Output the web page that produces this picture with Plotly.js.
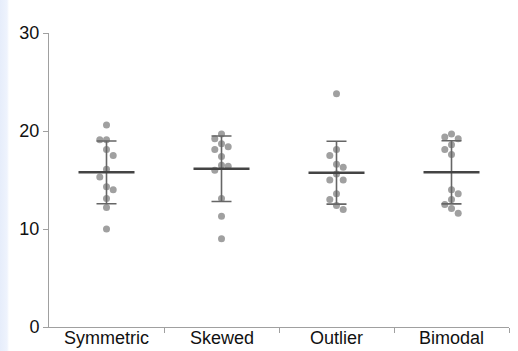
<!DOCTYPE html>
<html>
<head>
<meta charset="utf-8">
<script src="https://cdn.plot.ly/plotly-3.0.1.min.js"></script>
<style>
  html, body { margin: 0; padding: 0; }
  body {
    width: 518px; height: 351px; overflow: hidden;
    background: linear-gradient(to right, #e6edfb 0px, #eef3fd 7px, #ffffff 9px);
  }
  #chart { width: 518px; height: 351px; }
</style>
</head>
<body>
<div id="chart"></div>
<script>
// ---- data ----
const categories = ["Symmetric", "Skewed", "Outlier", "Bimodal"];
const symmetric = [20.6, 19.1, 19.1, 18.1, 17.5, 16.1, 15.3, 14.3, 14.0, 13.1, 12.2, 10.0];
const skewed    = [19.7, 19.2, 18.7, 18.4, 18.1, 17.4, 16.5, 16.4, 16.0, 13.1, 11.3, 9.0];
const outlier   = [23.8, 18.1, 17.5, 16.6, 16.3, 15.6, 15.0, 15.0, 13.6, 13.0, 12.4, 12.0];
const bimodal   = [19.7, 19.4, 19.2, 18.6, 18.1, 17.6, 14.0, 13.6, 13.0, 12.5, 12.1, 11.6];
const groups = [symmetric, skewed, outlier, bimodal];
const yTicks = [0, 10, 20, 30];

// ---- layout constants ----
const W = 518, H = 351;
const M = {l: 49, r: 9, t: 33, b: 24};
const plotW = W - M.l - M.r, plotH = H - M.t - M.b;
const yMax = 30;
const pxPerY = plotH / yMax;
const pxPerX = plotW / categories.length;
const dotD = 7;          // marker diameter (px)
const stepPx = 6.7;      // horizontal swarm step (px)
const gapPx = 8;         // min vertical spacing within one column (px)
const FONT = '"Liberation Sans", Arial, sans-serif';

function mean(a) { return a.reduce((s, v) => s + v, 0) / a.length; }
function sd(a) {
  const m = mean(a);
  return Math.sqrt(a.reduce((s, v) => s + (v - m) * (v - m), 0) / (a.length - 1));
}

// simple column swarm: centre first, then the side holding fewer points
function swarm(values) {
  const order = values.map((v, i) => i).sort((a, b) => values[b] - values[a]);
  const cols = {'-1': [], '0': [], '1': []};
  const offs = new Array(values.length).fill(0);
  order.forEach(i => {
    const py = values[i] * pxPerY;
    const free = c => cols[c].every(p => Math.abs(p - py) >= gapPx);
    const sides = cols['1'].length < cols['-1'].length ? [1, -1] : [-1, 1];
    const cands = [0].concat(sides);
    let chosen = cands.find(c => free(String(c)));
    if (chosen === undefined) chosen = 0;
    cols[String(chosen)].push(py);
    offs[i] = chosen * stepPx / pxPerX;
  });
  return offs;
}

const traces = [];
groups.forEach((vals, gi) => {
  const offs = swarm(vals);
  traces.push({
    type: 'scatter', mode: 'markers',
    x: vals.map((v, i) => gi + offs[i]), y: vals,
    marker: {size: dotD, color: '#a0a0a0'},
    hoverinfo: 'y', showlegend: false
  });
});
groups.forEach((vals, gi) => {
  const m = mean(vals), s = sd(vals);
  traces.push({
    type: 'scatter', mode: 'markers',
    x: [gi], y: [m],
    marker: {size: 1, color: 'rgba(0,0,0,0)'},
    error_y: {type: 'data', array: [s], visible: true, width: 10, thickness: 1.6, color: '#666666'},
    hoverinfo: 'skip', showlegend: false
  });
  traces.push({
    type: 'scatter', mode: 'markers',
    x: [gi], y: [m],
    marker: {symbol: 'line-ew-open', size: 40, color: '#444444', line: {width: 2.6, color: '#444444'}},
    hoverinfo: 'y', showlegend: false
  });
});

// category labels as annotations so they can sit close under the axis
const annotations = categories.map((c, i) => ({
  text: c, x: i, xref: 'x', y: 0, yref: 'y',
  xanchor: 'center', yanchor: 'top', yshift: 1,
  showarrow: false, font: {family: FONT, size: 18, color: '#111'}
}));

const layout = {
  width: W, height: H,
  margin: M,
  paper_bgcolor: 'rgba(0,0,0,0)',
  plot_bgcolor: 'rgba(0,0,0,0)',
  font: {family: FONT, size: 18, color: '#111'},
  showlegend: false,
  annotations: annotations,
  xaxis: {
    type: 'linear', range: [-0.5, categories.length - 0.5],
    tickmode: 'array', tickvals: categories.map((c, i) => i), ticktext: categories,
    showticklabels: false,
    ticks: '', showgrid: false, zeroline: false,
    showline: true, linecolor: '#a0a0a0', linewidth: 1,
    minor: {tickmode: 'array', tickvals: categories.map((c, i) => i + 0.5),
            ticks: 'outside', ticklen: 5, tickcolor: '#a0a0a0', showgrid: false},
    fixedrange: true
  },
  yaxis: {
    range: [0, yMax], tickmode: 'array', tickvals: yTicks,
    ticks: 'outside', ticklen: 5, tickcolor: '#a0a0a0',
    showgrid: false, zeroline: false,
    showline: true, linecolor: '#a0a0a0', linewidth: 1,
    fixedrange: true
  }
};

Plotly.newPlot('chart', traces, layout, {displayModeBar: false, staticPlot: true});
</script>
</body>
</html>
